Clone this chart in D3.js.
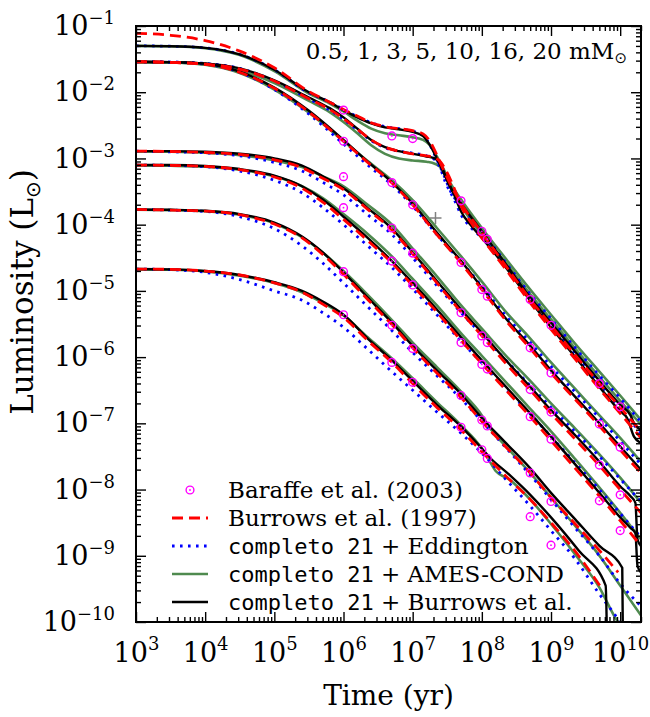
<!DOCTYPE html>
<html><head><meta charset="utf-8">
<script src="https://cdn.jsdelivr.net/npm/d3@7"></script>
<style>body{margin:0;background:#fff}svg{display:block}</style>
</head><body>
<svg id="chart" width="650" height="717"></svg>
<script>
// ---------------- DATA (log10 age [yr], log10 L [Lsun]) ----------------
const massLabels = ["0.5", "1", "3", "5", "10", "16", "20"];
const xMajorTicks = [1e3, 1e4, 1e5, 1e6, 1e7, 1e8, 1e9, 1e10];
const yMajorTicks = [1e-10, 1e-9, 1e-8, 1e-7, 1e-6, 1e-5, 1e-4, 1e-3, 1e-2, 1e-1];

// completo 21 + Burrows et al. (black)
const bur_20 = [[3,-1.30],[3.5,-1.305],[4,-1.33],[4.5,-1.43],[5,-1.66],[5.5,-2.0],[5.8,-2.15],[6,-2.27],[6.2,-2.38],[6.4,-2.47],[6.6,-2.53],[6.8,-2.56],[7.0,-2.60],[7.15,-2.66],[7.25,-2.80],[7.35,-3.00],[7.45,-3.22],[7.55,-3.45],[7.7,-3.68],[8,-4.10],[8.35,-4.60],[8.7,-5.10],[9,-5.48],[9.35,-5.92],[9.7,-6.36],[10,-6.72],[10.15,-6.88],[10.2,-7.0],[10.3,-7.1]];
const bur_16 = [[3,-1.54],[3.5,-1.545],[4,-1.565],[4.5,-1.64],[5,-1.82],[5.5,-2.08],[5.8,-2.24],[6,-2.38],[6.2,-2.55],[6.4,-2.72],[6.6,-2.83],[6.8,-2.89],[7.0,-2.93],[7.2,-2.97],[7.32,-3.0],[7.4,-3.08],[7.47,-3.25],[7.6,-3.55],[7.7,-3.80],[7.85,-4.02],[8,-4.20],[8.35,-4.65],[8.7,-5.15],[9,-5.55],[9.35,-6.0],[9.7,-6.45],[10,-6.82],[10.1,-6.92],[10.2,-7.2],[10.3,-7.3]];
const bur_10 = [[3,-1.54],[3.5,-1.545],[4,-1.57],[4.5,-1.69],[5,-1.93],[5.5,-2.28],[6,-2.72],[6.35,-3.05],[6.7,-3.36],[7,-3.68],[7.35,-4.12],[7.7,-4.55],[8,-4.95],[8.35,-5.42],[8.7,-5.83],[9,-6.20],[9.35,-6.60],[9.7,-7.0],[10,-7.35],[10.3,-7.7]];
const bur_5 = [[3,-2.89],[3.5,-2.89],[4,-2.90],[4.5,-2.93],[5,-3.0],[5.4,-3.11],[5.7,-3.27],[6,-3.45],[6.35,-3.75],[6.7,-4.06],[7,-4.42],[7.35,-4.85],[7.7,-5.28],[8,-5.63],[8.35,-6.05],[8.7,-6.45],[9,-6.80],[9.35,-7.18],[9.7,-7.58],[10,-7.95],[10.15,-8.10],[10.22,-8.2],[10.25,-8.75],[10.3,-8.85]];
const bur_3 = [[3,-3.10],[3.5,-3.10],[4,-3.115],[4.5,-3.16],[5,-3.26],[5.4,-3.42],[5.7,-3.62],[6,-3.88],[6.35,-4.20],[6.7,-4.55],[7,-4.88],[7.35,-5.28],[7.7,-5.70],[8,-6.05],[8.35,-6.45],[8.7,-6.85],[9,-7.20],[9.35,-7.62],[9.7,-8.05],[10,-8.42],[10.15,-8.58],[10.22,-8.66],[10.25,-9.15],[10.3,-9.25]];
const bur_1 = [[3,-3.77],[3.5,-3.775],[4,-3.79],[4.5,-3.84],[5,-3.97],[5.4,-4.18],[5.7,-4.42],[6,-4.72],[6.35,-5.10],[6.7,-5.48],[7,-5.83],[7.35,-6.20],[7.7,-6.56],[8,-6.92],[8.35,-7.30],[8.7,-7.68],[9,-8.05],[9.35,-8.45],[9.7,-8.85],[10.03,-9.18],[10.04,-10.3]];
const bur_05 = [[3,-4.67],[3.5,-4.675],[4,-4.70],[4.5,-4.76],[5,-4.87],[5.4,-5.0],[5.7,-5.16],[6,-5.36],[6.35,-5.72],[6.7,-6.05],[7,-6.36],[7.35,-6.72],[7.7,-7.05],[8,-7.38],[8.1,-7.50],[8.4,-7.78],[8.7,-8.08],[9,-8.42],[9.4,-8.92],[9.79,-9.45],[9.81,-10.3]];

// Burrows et al. (1997) (red dashed)
const b97_20 = [[3,-1.11],[3.5,-1.14],[4,-1.22],[4.5,-1.38],[5,-1.63],[5.5,-1.99],[5.8,-2.15],[6,-2.26],[6.2,-2.36],[6.4,-2.46],[6.6,-2.52],[6.8,-2.55],[7.0,-2.58],[7.15,-2.63],[7.25,-2.74],[7.35,-2.95],[7.45,-3.18],[7.55,-3.40],[7.7,-3.68],[8,-4.12],[8.35,-4.63],[8.7,-5.13],[9,-5.52],[9.35,-5.97],[9.7,-6.40],[10,-6.76],[10.3,-7.12]];
const b97_16 = [[3,-1.54],[3.5,-1.55],[4,-1.575],[4.5,-1.65],[5,-1.83],[5.5,-2.10],[5.8,-2.26],[6,-2.40],[6.2,-2.56],[6.4,-2.72],[6.6,-2.83],[6.8,-2.89],[7.0,-2.93],[7.2,-2.96],[7.32,-2.99],[7.4,-3.05],[7.5,-3.22],[7.6,-3.45],[7.7,-3.72],[7.85,-3.98],[8,-4.20],[8.35,-4.68],[8.7,-5.18],[9,-5.58],[9.35,-6.03],[9.7,-6.48],[10,-6.85],[10.3,-7.22]];
const b97_10 = [[3,-1.54],[3.5,-1.55],[4,-1.58],[4.5,-1.70],[5,-1.94],[5.5,-2.30],[6,-2.74],[6.35,-3.06],[6.7,-3.37],[7,-3.70],[7.35,-4.15],[7.7,-4.58],[8,-4.98],[8.35,-5.45],[8.7,-5.87],[9,-6.24],[9.35,-6.64],[9.7,-7.04],[10,-7.40],[10.3,-7.75]];
const b97_5 = [[3,-2.89],[3.5,-2.895],[4,-2.91],[4.5,-2.94],[5,-3.02],[5.4,-3.14],[5.7,-3.30],[6,-3.47],[6.35,-3.77],[6.7,-4.08],[7,-4.44],[7.35,-4.88],[7.7,-5.32],[8,-5.68],[8.35,-6.10],[8.7,-6.50],[9,-6.85],[9.35,-7.24],[9.7,-7.64],[10,-8.0],[10.3,-8.35]];
const b97_3 = [[3,-3.10],[3.5,-3.105],[4,-3.12],[4.5,-3.17],[5,-3.28],[5.4,-3.45],[5.7,-3.66],[6,-3.92],[6.35,-4.24],[6.7,-4.58],[7,-4.92],[7.35,-5.32],[7.7,-5.75],[8,-6.10],[8.35,-6.50],[8.7,-6.90],[9,-7.26],[9.35,-7.68],[9.7,-8.10],[10,-8.47],[10.3,-8.85]];
const b97_1 = [[3,-3.77],[3.5,-3.78],[4,-3.795],[4.5,-3.85],[5,-3.99],[5.4,-4.2],[5.7,-4.45],[6,-4.75],[6.35,-5.13],[6.7,-5.51],[7,-5.86],[7.35,-6.24],[7.7,-6.61],[8,-6.97],[8.35,-7.36],[8.7,-7.75],[9,-8.12],[9.35,-8.52],[9.7,-8.92],[9.97,-9.25]];
const b97_05 = [[3,-4.67],[3.5,-4.675],[4,-4.70],[4.5,-4.76],[5,-4.88],[5.4,-5.02],[5.7,-5.2],[6,-5.40],[6.35,-5.75],[6.7,-6.08],[7,-6.40],[7.35,-6.76],[7.7,-7.10],[8,-7.43],[8.4,-7.85],[8.7,-8.15],[9,-8.5],[9.4,-9.0],[9.75,-9.52]];

// completo 21 + Eddington (blue dotted)
const edd_20 = [[3,-1.30],[3.5,-1.305],[4,-1.33],[4.5,-1.43],[5,-1.66],[5.5,-2.01],[5.8,-2.15],[6,-2.26],[6.2,-2.37],[6.4,-2.46],[6.6,-2.52],[6.8,-2.55],[7.0,-2.59],[7.15,-2.65],[7.25,-2.80],[7.35,-3.02],[7.45,-3.25],[7.55,-3.5],[7.7,-3.72],[8,-4.10],[8.35,-4.58],[8.7,-5.05],[9,-5.42],[9.35,-5.86],[9.7,-6.28],[10,-6.62],[10.3,-6.98]];
const edd_16 = [[3,-1.54],[3.5,-1.545],[4,-1.565],[4.5,-1.64],[5,-1.83],[5.5,-2.10],[5.8,-2.27],[6,-2.41],[6.2,-2.57],[6.4,-2.73],[6.6,-2.84],[6.8,-2.89],[7.0,-2.92],[7.2,-2.96],[7.32,-3.02],[7.4,-3.15],[7.47,-3.35],[7.6,-3.62],[7.7,-3.85],[7.85,-4.05],[8,-4.20],[8.35,-4.62],[8.7,-5.10],[9,-5.50],[9.35,-5.95],[9.7,-6.40],[10,-6.78],[10.3,-7.15]];
const edd_10 = [[3,-1.54],[3.5,-1.545],[4,-1.575],[4.5,-1.70],[5,-1.96],[5.5,-2.33],[6,-2.78],[6.35,-3.10],[6.7,-3.40],[7,-3.72],[7.35,-4.15],[7.7,-4.56],[8,-4.93],[8.35,-5.38],[8.7,-5.78],[9,-6.14],[9.35,-6.53],[9.7,-6.92],[10,-7.27],[10.3,-7.62]];
const edd_5 = [[3,-2.89],[3.5,-2.9],[4,-2.915],[4.5,-2.96],[5,-3.06],[5.4,-3.19],[5.7,-3.36],[6,-3.55],[6.35,-3.85],[6.7,-4.15],[7,-4.50],[7.35,-4.92],[7.7,-5.33],[8,-5.66],[8.35,-6.05],[8.7,-6.43],[9,-6.76],[9.35,-7.13],[9.7,-7.50],[10,-7.84],[10.3,-8.18]];
const edd_3 = [[3,-3.10],[3.5,-3.105],[4,-3.125],[4.5,-3.19],[5,-3.33],[5.4,-3.52],[5.7,-3.74],[6,-4.0],[6.35,-4.32],[6.7,-4.65],[7,-4.97],[7.35,-5.36],[7.7,-5.76],[8,-6.09],[8.35,-6.48],[8.7,-6.86],[9,-7.20],[9.35,-7.60],[9.7,-8.0],[10,-8.36],[10.3,-8.72]];
const edd_1 = [[3,-3.77],[3.5,-3.78],[4,-3.80],[4.5,-3.88],[5,-4.06],[5.4,-4.32],[5.7,-4.58],[6,-4.88],[6.35,-5.24],[6.7,-5.60],[7,-5.93],[7.35,-6.28],[7.7,-6.63],[8,-6.97],[8.35,-7.37],[8.7,-7.78],[9,-8.15],[9.35,-8.58],[9.7,-9.0],[10,-9.42],[10.3,-9.76]];
const edd_05 = [[3,-4.67],[3.5,-4.68],[4,-4.72],[4.5,-4.83],[5,-5.0],[5.4,-5.14],[5.7,-5.33],[6,-5.55],[6.35,-5.88],[6.7,-6.22],[7,-6.50],[7.35,-6.83],[7.7,-7.15],[8,-7.45],[8.35,-7.85],[8.7,-8.25],[9,-8.62],[9.35,-9.05],[9.68,-9.55],[10.0,-10.0],[10.1,-10.15]];

// completo 21 + AMES-COND (green)
const ames_20 = [[3,-1.30],[3.5,-1.305],[4,-1.335],[4.5,-1.44],[5,-1.68],[5.5,-2.02],[5.8,-2.17],[6,-2.29],[6.2,-2.43],[6.4,-2.55],[6.6,-2.62],[6.8,-2.65],[7.0,-2.68],[7.15,-2.72],[7.25,-2.80],[7.35,-2.97],[7.45,-3.17],[7.55,-3.38],[7.7,-3.62],[8,-4.05],[8.35,-4.52],[8.7,-4.98],[9,-5.36],[9.35,-5.80],[9.7,-6.22],[10,-6.58],[10.3,-6.95]];
const ames_16 = [[3,-1.545],[3.5,-1.55],[4,-1.58],[4.5,-1.67],[5,-1.86],[5.5,-2.13],[5.8,-2.30],[6,-2.45],[6.2,-2.62],[6.4,-2.80],[6.6,-2.93],[6.8,-3.0],[7.0,-3.03],[7.2,-3.05],[7.32,-3.08],[7.42,-3.15],[7.5,-3.30],[7.6,-3.50],[7.7,-3.70],[7.85,-3.95],[8,-4.15],[8.35,-4.58],[8.7,-5.05],[9,-5.43],[9.35,-5.87],[9.7,-6.30],[10,-6.66],[10.3,-7.02]];
const ames_10 = [[3,-1.545],[3.5,-1.55],[4,-1.585],[4.5,-1.71],[5,-1.96],[5.5,-2.31],[6,-2.74],[6.35,-3.04],[6.7,-3.33],[7,-3.63],[7.35,-4.05],[7.7,-4.48],[8,-4.86],[8.35,-5.32],[8.7,-5.72],[9,-6.08],[9.35,-6.48],[9.7,-6.88],[10,-7.22],[10.3,-7.58]];
const ames_5 = [[3,-2.895],[3.5,-2.9],[4,-2.915],[4.5,-2.95],[5,-3.03],[5.4,-3.13],[5.7,-3.27],[6,-3.42],[6.35,-3.70],[6.7,-4.0],[7,-4.36],[7.35,-4.78],[7.7,-5.22],[8,-5.57],[8.35,-5.98],[8.7,-6.36],[9,-6.70],[9.35,-7.08],[9.7,-7.47],[10,-7.82],[10.3,-8.2]];
const ames_3 = [[3,-3.105],[3.5,-3.11],[4,-3.125],[4.5,-3.17],[5,-3.27],[5.4,-3.42],[5.7,-3.60],[6,-3.84],[6.35,-4.14],[6.7,-4.48],[7,-4.82],[7.35,-5.22],[7.7,-5.64],[8,-5.98],[8.35,-6.38],[8.7,-6.78],[9,-7.12],[9.35,-7.54],[9.7,-7.97],[10,-8.35],[10.3,-8.75]];
const ames_1 = [[3,-3.775],[3.5,-3.78],[4,-3.795],[4.5,-3.85],[5,-3.98],[5.4,-4.19],[5.7,-4.42],[6,-4.70],[6.35,-5.06],[6.7,-5.44],[7,-5.78],[7.35,-6.15],[7.7,-6.52],[8,-6.88],[8.1,-7.05],[8.35,-7.35],[8.7,-7.75],[9,-8.12],[9.35,-8.55],[9.7,-9.0],[10,-9.45],[10.3,-9.9]];
const ames_05 = [[3,-4.675],[3.5,-4.68],[4,-4.705],[4.5,-4.77],[5,-4.88],[5.4,-5.02],[5.7,-5.18],[6,-5.37],[6.35,-5.70],[6.7,-6.02],[7,-6.32],[7.35,-6.68],[7.7,-7.03],[8,-7.38],[8.1,-7.55],[8.2,-7.72],[8.4,-7.85],[8.7,-8.15],[9,-8.52],[9.35,-8.98],[9.7,-9.48],[9.95,-9.97],[10.05,-10.1]];

// Baraffe et al. (2003) points
const baraffeAges = [6, 6.699, 7, 7.699, 8, 8.079, 8.699, 9, 9.699, 10];
const baraffe_20 = [-2.27, -2.66, -2.70, -3.64, -4.10, -4.22, -5.13, -5.52, -6.40, -6.75];
const baraffe_10 = [-2.74, -3.365, -3.70, -4.57, -4.98, -5.08, -5.86, -6.24, -7.01, -7.36];
const baraffe_5 = [-3.275, -4.05, -4.43, -5.33, -5.68, -5.78, -6.49, -6.83, -7.63, -8.08];
const baraffe_3 = [-3.743, -4.55, -4.91, -5.78, -6.11, -6.18, -6.90, -7.24, -8.17, -8.62];
const baraffe_1 = [-4.71, -5.52, -5.87, -6.58, -6.95, -7.04, -7.75, -8.18, null, null];
const baraffe_05 = [-5.36, -6.08, -6.38, -7.06, -7.40, -7.53, -8.41, -8.84, null, null];

// observed object (grey plus)
const objectPoint = [7.33, -3.90];

const legendLabels = ["Baraffe et al. (2003)", "Burrows et al. (1997)", "+ Eddington", "+ AMES-COND", "+ Burrows et al."];

// ---------------- CHART ----------------
const svg = d3.select("#chart");
const L = 136, R = 641, T = 26, B = 622;
const x = d3.scaleLog().domain([1e3, 2e10]).range([L, R]);
const y = d3.scaleLog().domain([1e-10, 1e-1]).range([B, T]);
const serif = "'DejaVu Serif', serif";
const mono = "'DejaVu Sans Mono', monospace";

svg.append("defs").append("clipPath").attr("id", "clip")
  .append("rect").attr("x", L).attr("y", T).attr("width", R - L).attr("height", B - T);

const line = d3.line()
  .defined(d => d[1] != null)
  .x(d => x(Math.pow(10, d[0])))
  .y(d => y(Math.pow(10, d[1])))
  .curve(d3.curveMonotoneX);

const plot = svg.append("g").attr("clip-path", "url(#clip)");

const styles = {
  ames: {stroke: "#4f8a4f", width: 2.6, dash: null},
  edd: {stroke: "#0000ff", width: 2.8, dash: "2.6,5.4"},
  bur: {stroke: "#000000", width: 2.4, dash: null},
  b97: {stroke: "#ff0000", width: 2.8, dash: "11,6"}
};
const groups = [
  ["ames", [ames_05, ames_1, ames_3, ames_5, ames_10, ames_16, ames_20]],
  ["edd", [edd_05, edd_1, edd_3, edd_5, edd_10, edd_16, edd_20]],
  ["bur", [bur_05, bur_1, bur_3, bur_5, bur_10, bur_16, bur_20]],
  ["b97", [b97_05, b97_1, b97_3, b97_5, b97_10, b97_16, b97_20]]
];
groups.forEach(([key, curves]) => {
  const st = styles[key];
  plot.append("g").selectAll("path").data(curves).join("path")
    .attr("d", line)
    .attr("fill", "none")
    .attr("stroke", st.stroke)
    .attr("stroke-width", st.width)
    .attr("stroke-dasharray", st.dash)
    .attr("stroke-linejoin", "round");
});

// Baraffe points
const barSets = [baraffe_05, baraffe_1, baraffe_3, baraffe_5, baraffe_10, baraffe_20];
const barPts = [];
barSets.forEach(s => s.forEach((v, i) => { if (v != null) barPts.push([baraffeAges[i], v]); }));
const odot = (g) => {
  g.append("circle").attr("r", 3.9).attr("fill", "none").attr("stroke", "#ff00ff").attr("stroke-width", 1.4);
  g.append("circle").attr("r", 0.9).attr("fill", "#ff00ff");
};
plot.append("g").selectAll("g").data(barPts).join("g")
  .attr("transform", d => `translate(${x(Math.pow(10, d[0]))},${y(Math.pow(10, d[1]))})`)
  .each(function() { odot(d3.select(this)); });

// grey plus
const px = x(Math.pow(10, objectPoint[0])), py = y(Math.pow(10, objectPoint[1]));
plot.append("path").attr("d", `M${px-6},${py}H${px+6}M${px},${py-6}V${py+6}`)
  .attr("stroke", "#808080").attr("stroke-width", 1.5);

// ---------------- AXES ----------------
function minorTicks(scale) {
  return scale.ticks().filter(v => {
    const m = v / Math.pow(10, Math.floor(Math.log10(v) + 1e-9));
    return Math.abs(m - 1) > 1e-6;
  });
}
const xMinor = minorTicks(x), yMinor = minorTicks(y);
const noFmt = () => "";
function styleAxis(g) {
  g.select(".domain").remove();
  g.selectAll(".tick line").attr("stroke", "#000").attr("stroke-width", 1.4);
}
svg.append("g").attr("transform", `translate(0,${B})`).call(d3.axisBottom(x).tickValues(xMinor).tickSize(-5).tickFormat(noFmt)).call(styleAxis);
svg.append("g").attr("transform", `translate(0,${T})`).call(d3.axisTop(x).tickValues(xMinor).tickSize(-5).tickFormat(noFmt)).call(styleAxis);
svg.append("g").attr("transform", `translate(0,${T})`).call(d3.axisTop(x).tickValues(xMajorTicks).tickSize(-10).tickFormat(noFmt)).call(styleAxis);
svg.append("g").attr("transform", `translate(${L},0)`).call(d3.axisLeft(y).tickValues(yMinor).tickSize(-5).tickFormat(noFmt)).call(styleAxis);
svg.append("g").attr("transform", `translate(${R},0)`).call(d3.axisRight(y).tickValues(yMinor).tickSize(-5).tickFormat(noFmt)).call(styleAxis);
svg.append("g").attr("transform", `translate(${R},0)`).call(d3.axisRight(y).tickValues(yMajorTicks).tickSize(-10).tickFormat(noFmt)).call(styleAxis);

const exp = v => Math.round(Math.log10(v));
const xAx = svg.append("g").attr("transform", `translate(0,${B})`)
  .call(d3.axisBottom(x).tickValues(xMajorTicks).tickSize(-10).tickPadding(0).tickFormat(noFmt)).call(styleAxis);
xAx.selectAll(".tick text").each(function(d) {
  const t = d3.select(this).attr("y", 40).attr("dy", null)
    .attr("font-family", serif).attr("font-size", 27).attr("fill", "#000").attr("text-anchor", "middle");
  t.append("tspan").text("10");
  t.append("tspan").attr("dy", -12).attr("font-size", 18).text(String(exp(d)).replace("-", "\u2212"));
});
const yAx = svg.append("g").attr("transform", `translate(${L},0)`)
  .call(d3.axisLeft(y).tickValues(yMajorTicks).tickSize(-10).tickPadding(0).tickFormat(noFmt)).call(styleAxis);
yAx.selectAll(".tick text").each(function(d) {
  const t = d3.select(this).attr("x", -21).attr("dy", "0.32em")
    .attr("font-family", serif).attr("font-size", 27).attr("fill", "#000").attr("text-anchor", "end");
  t.append("tspan").text("10");
  t.append("tspan").attr("dy", -11).attr("font-size", 18).text(String(exp(d)).replace("-", "\u2212"));
});

// frame
svg.append("rect").attr("x", L).attr("y", T).attr("width", R - L).attr("height", B - T)
  .attr("fill", "none").attr("stroke", "#000").attr("stroke-width", 2);

// axis titles
svg.append("text").attr("x", (L + R) / 2).attr("y", 705).attr("text-anchor", "middle")
  .attr("font-family", serif).attr("font-size", 28).text("Time (yr)");
const yl = svg.append("text").attr("transform", `translate(33,292) rotate(-90)`)
  .attr("text-anchor", "middle").attr("font-family", serif).attr("font-size", 31);
yl.append("tspan").text("Luminosity (L");
yl.append("tspan").attr("font-family", "'DejaVu Sans', sans-serif").attr("font-size", 20).attr("dy", 7).text("\u2299");
yl.append("tspan").attr("dy", -7).text(")");

// mass annotation
const ann = svg.append("text").attr("x", 627).attr("y", 59).attr("text-anchor", "end")
  .attr("font-family", serif).attr("font-size", 23);
ann.append("tspan").text(massLabels.join(", ") + " mM");
ann.append("tspan").attr("font-family", "'DejaVu Sans', sans-serif").attr("font-size", 15).attr("dy", 4).text("\u2299");

// legend
const lg = svg.append("g");
const ly0 = 490, ldy = 28, lx0 = 172, lx1 = 208, ltx = 228;
legendLabels.forEach((lab, i) => {
  const yy = ly0 + i * ldy;
  if (i === 0) {
    const g = lg.append("g").attr("transform", `translate(${(lx0 + lx1) / 2},${yy})`);
    odot(g);
  } else {
    const st = styles[["b97", "edd", "ames", "bur"][i - 1]];
    lg.append("line").attr("x1", lx0).attr("x2", lx1).attr("y1", yy).attr("y2", yy)
      .attr("stroke", st.stroke).attr("stroke-width", st.width).attr("stroke-dasharray", st.dash);
  }
  const t = lg.append("text").attr("x", ltx).attr("y", yy).attr("dy", "0.35em")
    .attr("font-family", serif).attr("font-size", 23);
  if (i >= 2) {
    t.append("tspan").attr("font-family", mono).attr("font-size", 22).text("completo 21");
    t.append("tspan").text(" " + lab);
  } else {
    t.text(lab);
  }
});
</script>
</body></html>
